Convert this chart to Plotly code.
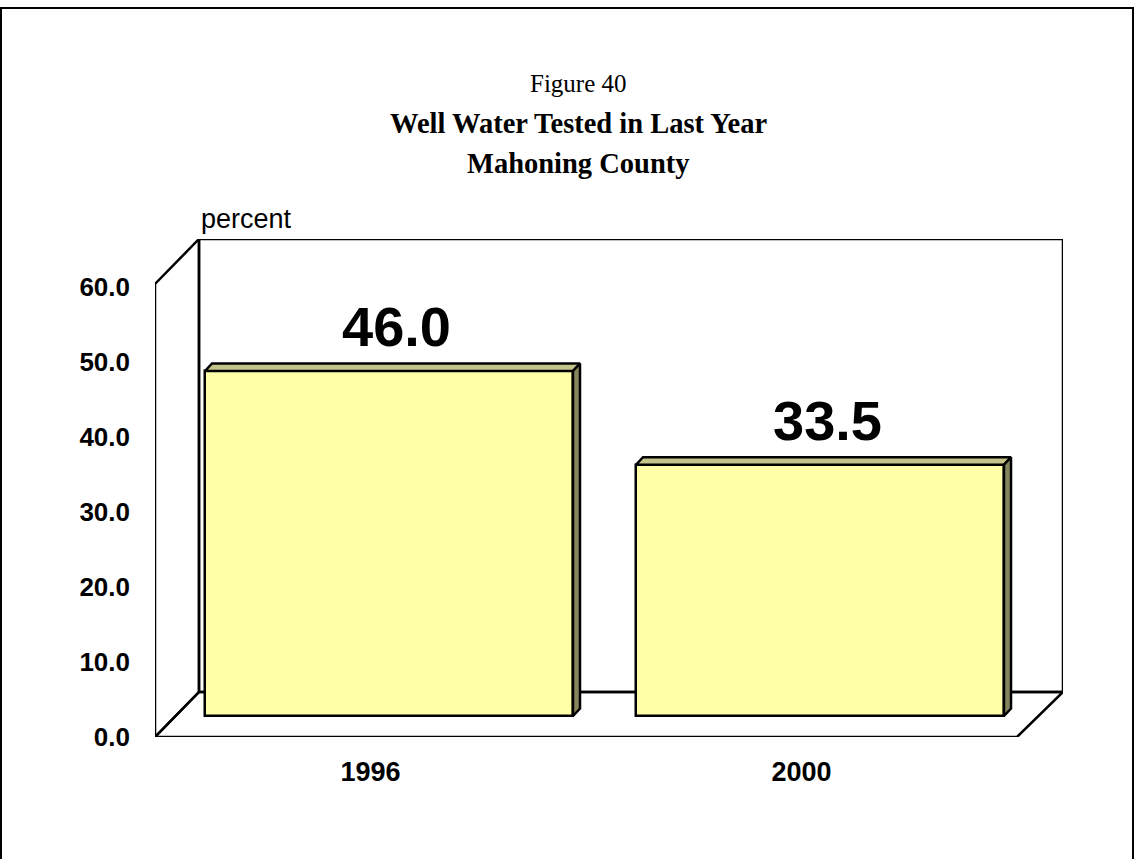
import plotly.graph_objects as go

# ---- data ----
categories = ["1996", "2000"]
values = [46.0, 33.5]
y_ticks = [0, 10, 20, 30, 40, 50, 60]
y_tick_labels = ["0.0", "10.0", "20.0", "30.0", "40.0", "50.0", "60.0"]

# ---- geometry ----
W, H = 1135, 859
PX_L, PX_R, PX_T, PX_B = 155, 1063, 239, 737
SLOT_PX = 431.0
X_MAX = (PX_R - PX_L) / SLOT_PX
Y_UNIT_PX = 7.5
Y_MAX = (PX_B - PX_T) / Y_UNIT_PX
WALL_TOP = (PX_B - 284) / Y_UNIT_PX
DEPTH_X = 44 / SLOT_PX
DEPTH_Y = Y_MAX - WALL_TOP
N = len(categories)

BAR_DX = 18.5 / SLOT_PX
BAR_W = 368 / SLOT_PX
BAR_BASE = 21 / Y_UNIT_PX
BAR_DEPTH_X = 7 / SLOT_PX
BAR_DEPTH_Y = 7.5 / Y_UNIT_PX

FRONT = "#FFFFA8"
TOP = "#C4C48A"
SIDE = "#86865E"
LW = 2.5

cat_pos = [i + 0.5 for i in range(N)]
bar_x = [p + BAR_DX for p in cat_pos]

fig = go.Figure()

# front faces
fig.add_trace(go.Bar(
    x=bar_x, y=values, base=[BAR_BASE] * N, width=[BAR_W] * N,
    marker=dict(color=FRONT, line=dict(color="black", width=LW)),
    hoverinfo="skip", showlegend=False,
))

# top & side faces computed from the values
for bx, v in zip(bar_x, values):
    x0, x1 = bx - BAR_W / 2, bx + BAR_W / 2
    top = BAR_BASE + v
    fig.add_trace(go.Scatter(
        x=[x0, x1, x1 + BAR_DEPTH_X, x0 + BAR_DEPTH_X, x0],
        y=[top, top, top + BAR_DEPTH_Y, top + BAR_DEPTH_Y, top],
        fill="toself", fillcolor=TOP, mode="lines",
        line=dict(color="black", width=LW), hoverinfo="skip", showlegend=False))
    fig.add_trace(go.Scatter(
        x=[x1, x1 + BAR_DEPTH_X, x1 + BAR_DEPTH_X, x1, x1],
        y=[BAR_BASE, BAR_BASE + BAR_DEPTH_Y, top + BAR_DEPTH_Y, top, BAR_BASE],
        fill="toself", fillcolor=SIDE, mode="lines",
        line=dict(color="black", width=LW), hoverinfo="skip", showlegend=False))

# value labels
for bx, v in zip(bar_x, values):
    fig.add_annotation(
        x=bx + BAR_DEPTH_X, y=BAR_BASE + v + BAR_DEPTH_Y,
        text="<b>%.1f</b>" % v, showarrow=False, yanchor="middle", xanchor="center",
        yshift=37,
        font=dict(family="Liberation Sans, Arial", size=56, color="black"))

# walls / floor (below traces)
wall = dict(color="black", width=LW)
shapes = [
    dict(type="rect", x0=DEPTH_X, x1=X_MAX, y0=DEPTH_Y, y1=Y_MAX,
         line=wall, layer="below"),
    dict(type="path",
         path=f"M 0,0 L 0,{WALL_TOP} L {DEPTH_X},{Y_MAX} L {DEPTH_X},{DEPTH_Y} Z",
         line=wall, layer="below"),
    dict(type="path",
         path=f"M 0,0 L {N},0 L {X_MAX},{DEPTH_Y} L {DEPTH_X},{DEPTH_Y} Z",
         line=wall, layer="below"),
]
for s in shapes:
    s["xref"] = "x"
    s["yref"] = "y"


def px2paper_x(px):
    return (px - PX_L) / (PX_R - PX_L)


def px2paper_y(py):
    return (PX_B - py) / (PX_B - PX_T)


shapes.append(dict(type="rect", xref="paper", yref="paper",
                   x0=px2paper_x(1), x1=px2paper_x(1133),
                   y0=px2paper_y(900), y1=px2paper_y(8),
                   line=dict(color="black", width=2), layer="below"))

title_font = "Liberation Serif, Times New Roman"
titles = [
    ("Figure 40", 84, 25),
    ("<b>Well Water Tested in Last Year</b>", 123, 28.5),
    ("<b>Mahoning County</b>", 163, 28.5),
]
for txt, ypx, size in titles:
    fig.add_annotation(xref="paper", yref="paper", x=px2paper_x(578), y=px2paper_y(ypx),
                       xanchor="center", yanchor="middle",
                       text=txt, showarrow=False,
                       font=dict(family=title_font, size=size, color="black"))
fig.add_annotation(xref="paper", yref="paper", x=px2paper_x(199), y=px2paper_y(219),
                   xanchor="left", yanchor="middle", text="percent", showarrow=False,
                   font=dict(family="Liberation Sans, Arial", size=27, color="black"))

fig.update_layout(
    width=W, height=H,
    margin=dict(l=PX_L, r=W - PX_R, t=PX_T, b=H - PX_B, pad=0),
    paper_bgcolor="white", plot_bgcolor="white",
    shapes=shapes, showlegend=False, bargap=0,
    xaxis=dict(range=[0, X_MAX], tickvals=cat_pos,
               ticktext=["<b>%s</b>" % c for c in categories],
               showgrid=False, zeroline=False, showline=False, ticks="",
               ticklabelstandoff=16, fixedrange=True,
               tickfont=dict(family="Liberation Sans, Arial", size=27, color="black")),
    yaxis=dict(range=[0, Y_MAX], tickvals=y_ticks,
               ticktext=["<b>%s</b>" % t for t in y_tick_labels],
               showgrid=False, zeroline=False, showline=False, ticks="",
               ticklabelstandoff=24, fixedrange=True,
               tickfont=dict(family="Liberation Sans, Arial", size=26, color="black")),
)

fig.write_html("out.html", config={"displayModeBar": False},
               post_script="document.body.style.margin='0';")
